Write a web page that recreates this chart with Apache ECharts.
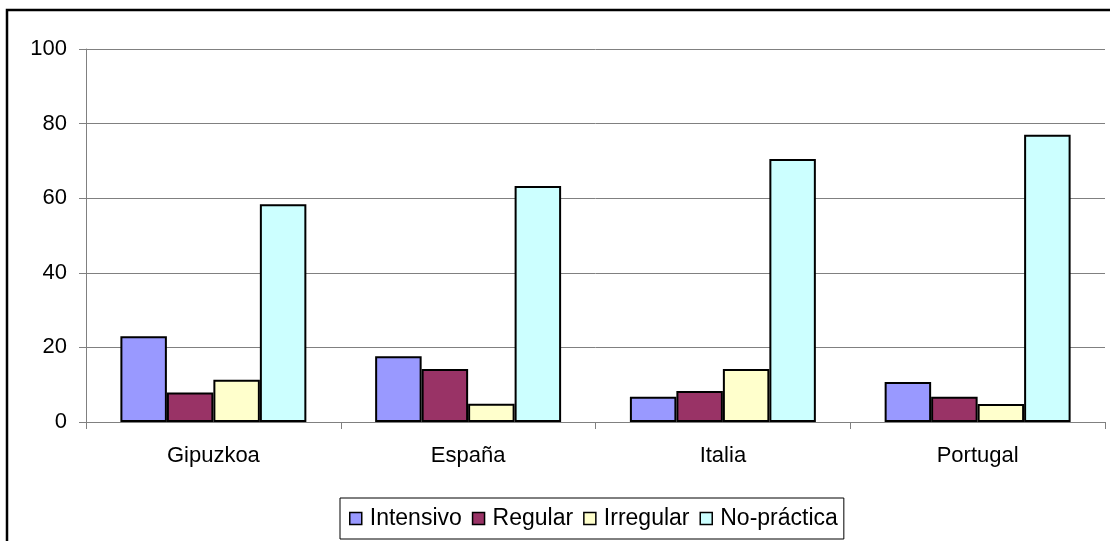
<!DOCTYPE html>
<html>
<head>
<meta charset="utf-8">
<style>
  html, body { margin: 0; padding: 0; background: #fff; }
  #chart { width: 1110px; height: 541px; }
</style>
<script src="https://cdn.jsdelivr.net/npm/echarts@6/dist/echarts.min.js"></script>
</head>
<body>
<div id="chart"></div>
<script>
// Participación por territorio (%)
const categories = ['Gipuzkoa', 'España', 'Italia', 'Portugal'];
const seriesNames = ['Intensivo', 'Regular', 'Irregular', 'No-práctica'];
const intensivo = [23.0, 17.6, 6.8, 10.7];
const regular = [7.9, 14.2, 8.3, 6.8];
const irregular = [11.3, 4.9, 14.2, 4.8];
const noPractica = [58.4, 63.3, 70.5, 77.0];
const yTicks = [0, 20, 40, 60, 80, 100];

const colors = ['#9999FF', '#993366', '#FFFFCC', '#CCFFFF'];
const values = [intensivo, regular, irregular, noPractica];
const FONT = '"Liberation Sans", Arial, sans-serif';

const chart = echarts.init(document.getElementById('chart'), null, { renderer: 'canvas' });

chart.setOption({
  animation: false,
  backgroundColor: '#ffffff',
  textStyle: { fontFamily: FONT, color: '#000' },
  grid: { left: 86, right: 5, top: 49, bottom: 119, containLabel: false },
  graphic: [{
    type: 'rect',
    shape: { x: 7, y: 10, width: 1200, height: 600 },
    style: { fill: 'none', stroke: '#000', lineWidth: 2.5 },
    silent: true,
    z: 100
  }],
  legend: {
    data: seriesNames,
    left: 340,
    top: 498,
    padding: [9, 6, 9, 9],
    itemGap: 10,
    itemWidth: 12,
    itemHeight: 12,
    icon: 'rect',
    borderColor: '#000',
    borderWidth: 1,
    itemStyle: { borderColor: '#000', borderWidth: 1.5 },
    textStyle: { fontFamily: FONT, fontSize: 23, color: '#000', padding: [0, 0, 0, 3] }
  },
  xAxis: {
    type: 'category',
    data: categories,
    axisLine: { lineStyle: { color: '#808080', width: 1 } },
    axisTick: { show: true, length: 7, lineStyle: { color: '#808080' } },
    axisLabel: { fontFamily: FONT, fontSize: 22, color: '#000', margin: 23 }
  },
  yAxis: {
    type: 'value',
    min: yTicks[0],
    max: yTicks[yTicks.length - 1],
    interval: yTicks[1] - yTicks[0],
    axisLine: { show: true, lineStyle: { color: '#808080', width: 1 } },
    axisTick: { show: true, length: 7, lineStyle: { color: '#808080' } },
    axisLabel: { fontFamily: FONT, fontSize: 22, color: '#000', margin: 19 },
    splitLine: { show: true, lineStyle: { color: '#808080', width: 1 } }
  },
  series: seriesNames.map((name, i) => ({
    name,
    type: 'bar',
    data: values[i],
    barGap: '0%',
    barCategoryGap: '27%',
    itemStyle: { color: colors[i], borderColor: '#000', borderWidth: 2 }
  }))
});
</script>
</body>
</html>
